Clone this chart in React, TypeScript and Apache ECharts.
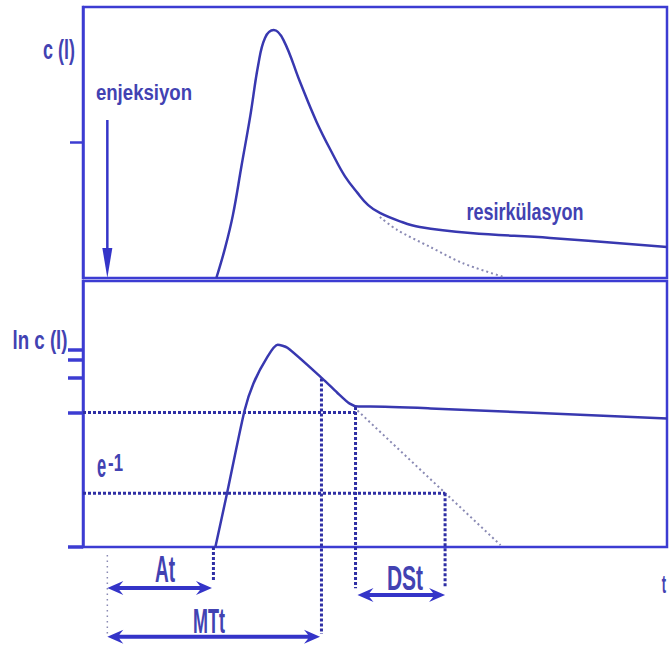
import React, { useEffect, useRef } from "react";
import * as echarts from "echarts";

// ---- data (time in s, concentration in % of panel range) ----
const timeTop = [13.7, 14.6, 15.4, 16.3, 17.2, 18.0, 18.7, 19.6, 20.6, 22.3, 24.0, 25.7, 26.9, 28.2, 29.3, 30.5, 32.5, 34.6, 39.8, 48.0, 60];
const concTop = [0, 11.1, 23.2, 41.7, 60.1, 78.6, 88.6, 91.5, 87.8, 72.3, 57.6, 45.4, 37.6, 31.4, 26.9, 24.0, 21.0, 18.8, 16.6, 14.8, 11.4];
const timeTopExtrap = [30.5, 32.3, 35.7, 39.0, 43.2];
const concTopExtrap = [22.5, 17.7, 11.4, 5.5, 0.4];

const timeLn = [13.6, 14.8, 16.6, 17.5, 18.9, 20.0, 21.0, 24.6, 26.1, 27.4, 28.3, 29.5, 35.7, 60];
const lnConc = [0, 20.2, 51.3, 61.4, 71.2, 76.0, 74.9, 63.3, 58.1, 53.9, 52.8, 52.8, 52.1, 48.3];
const timeLnExtrap = [28.2, 42.9];
const lnConcExtrap = [51.3, 0.7];

const injectionTime = 2.5;
const appearanceTime = 13.4;
const meanTransitTime = 24.5;
const kneeTime = 28.0;
const dstEndTime = 37.2;
const kneeLevel = 50.6;
const eInvLevel = 20.2;
const kneeCurveLevel = 52.6;
const mttCurveLevel = 63.3;
const injectionArrowTop = 58.3;

const topTicks = [50];
const lnTicks = [0, 50.6, 63.7, 70.4, 74.2];

// arrow rows below the axis (values in ln-panel units)
const atRow = -15.4;
const dstRow = -18.0;
const mttRow = -33.7;

const BORDER = "#3c3cd2";
const CURVE = "#3838b0";
const TEXT = "#4242b2";
const ARROW = "#3434c8";
const DOT = "#2e2ea4";
const GREY = "#8a8ab4";
const FONT = "'Liberation Sans', Arial, sans-serif";

const zip = (a: number[], b: number[]) => a.map((v, i) => [v, b[i]]);

function dotted(name: string, data: number[][], color = DOT, width = 3, dash: number[] = [3, 2]) {
  return {
    name,
    type: "line",
    xAxisIndex: 1,
    yAxisIndex: 1,
    data,
    symbol: "none",
    clip: false,
    silent: true,
    lineStyle: { color, width, type: dash },
    z: 3,
  };
}

const axisX = (gi: number) => ({
  gridIndex: gi,
  type: "value",
  min: 0,
  max: 60,
  axisLine: { show: false },
  axisTick: { show: false },
  axisLabel: { show: false },
  splitLine: { show: false },
});

export default function App() {
  const ref = useRef<HTMLDivElement>(null);
  useEffect(() => {
    const chart = echarts.init(ref.current!, null, { renderer: "svg" });
    const option: any = {
      animation: false,
      backgroundColor: "#ffffff",
      grid: [
        { left: 83, top: 7, width: 584, height: 271, show: true, borderColor: BORDER, borderWidth: 2.5, backgroundColor: "transparent" },
        { left: 83, top: 281, width: 584, height: 266, show: true, borderColor: BORDER, borderWidth: 2.5, backgroundColor: "transparent" },
      ],
      xAxis: [axisX(0), axisX(1)],
      yAxis: [
        {
          gridIndex: 0, type: "value", min: 0, max: 100,
          axisLine: { show: true, lineStyle: { color: BORDER, width: 2.5 } },
          axisTick: { show: true, customValues: topTicks, length: 13, lineStyle: { color: BORDER, width: 2.5 } },
          axisLabel: { show: false }, splitLine: { show: false },
        },
        {
          gridIndex: 1, type: "value", min: 0, max: 100,
          axisLine: { show: true, lineStyle: { color: BORDER, width: 2.5 } },
          axisTick: { show: true, customValues: lnTicks, length: 15, lineStyle: { color: BORDER, width: 3.5 } },
          axisLabel: { show: false }, splitLine: { show: false },
        },
      ],
      series: [
        {
          name: "c", type: "line", xAxisIndex: 0, yAxisIndex: 0, data: zip(timeTop, concTop),
          symbol: "none", smooth: 0.4, lineStyle: { color: CURVE, width: 2.5 }, z: 4,
        },
        {
          name: "c extrap", type: "line", xAxisIndex: 0, yAxisIndex: 0, data: zip(timeTopExtrap, concTopExtrap),
          symbol: "none", smooth: 0.3, lineStyle: { color: GREY, width: 2, type: [2, 3] }, z: 3,
        },
        {
          name: "ln c", type: "line", xAxisIndex: 1, yAxisIndex: 1, data: zip(timeLn, lnConc),
          symbol: "none", smooth: 0.25, lineStyle: { color: CURVE, width: 2.5 }, z: 4,
        },
        dotted("ln extrap", zip(timeLnExtrap, lnConcExtrap), GREY, 2, [2, 3]),
        dotted("knee level", [[0, kneeLevel], [kneeTime, kneeLevel]]),
        dotted("e-1 level", [[0, eInvLevel], [dstEndTime, eInvLevel]]),
        dotted("MTt", [[meanTransitTime, mttCurveLevel], [meanTransitTime, mttRow + 1]]),
        dotted("knee", [[kneeTime, kneeCurveLevel], [kneeTime, dstRow + 2.5]]),
        dotted("DSt end", [[dstEndTime, eInvLevel], [dstEndTime, dstRow + 2.5]]),
        dotted("At end", [[appearanceTime, 0], [appearanceTime, atRow + 2.3]]),
        dotted("injection", [[injectionTime, -3], [injectionTime, mttRow + 1]], GREY, 1.5, [1.5, 4]),
      ],
    };
    chart.setOption(option);

    const p = (g: number, t: number, v: number) =>
      chart.convertToPixel({ xAxisIndex: g, yAxisIndex: g } as any, [t, v]) as number[];

    const hArrow = (a: number[], b: number[]) => {
      const x1 = a[0], x2 = b[0], y = a[1];
      const h = 16, w = 7, s = 2, n = 4;
      return {
        type: "polygon",
        silent: true,
        shape: {
          points: [
            [x1, y], [x1 + h, y - w], [x1 + h - n, y - s], [x2 - h + n, y - s], [x2 - h, y - w],
            [x2, y], [x2 - h, y + w], [x2 - h + n, y + s], [x1 + h - n, y + s], [x1 + h, y + w],
          ],
        },
        style: { fill: ARROW },
        z: 10,
      };
    };

    const label = (text: string, x: number, y: number, fontSize: number, scaleX: number) => ({
      type: "text",
      x, y, scaleX,
      silent: true,
      z: 10,
      style: {
        text, fontSize, fontFamily: FONT, fontWeight: "bold", fill: TEXT,
        align: "center", verticalAlign: "middle", textAlign: "center", textVerticalAlign: "middle",
      },
    });

    const injTop = p(0, injectionTime, injectionArrowTop);
    const injTip = p(0, injectionTime, 0);

    chart.setOption({
      graphic: [
        {
          type: "line", silent: true, z: 10,
          shape: { x1: injTop[0], y1: injTop[1], x2: injTip[0], y2: injTip[1] - 20 },
          style: { stroke: ARROW, lineWidth: 2.5 },
        },
        {
          type: "polygon", silent: true, z: 10,
          shape: { points: [[injTip[0] - 5, injTip[1] - 30], [injTip[0] + 5, injTip[1] - 30], [injTip[0], injTip[1]]] },
          style: { fill: ARROW },
        },
        hArrow(p(1, injectionTime, atRow), p(1, appearanceTime - 0.15, atRow)),
        hArrow(p(1, injectionTime, mttRow), p(1, meanTransitTime - 0.15, mttRow)),
        hArrow(p(1, kneeTime + 0.2, dstRow), p(1, dstEndTime, dstRow)),
        label("c (l)", 59, 49, 28, 0.64),
        label("enjeksiyon", 144, 92, 23, 0.81),
        label("resirkülasyon", 525, 212, 24, 0.75),
        label("ln c (l)", 40, 340, 26, 0.72),
        label("e", 101.5, 466, 33, 0.5),
        label("-1", 115.5, 462, 24, 0.7),
        label("At", 165, 570, 36, 0.53),
        label("MTt", 209, 620, 36, 0.5),
        label("DSt", 405, 578, 35, 0.6),
        label("t", 664, 584, 26, 0.5),
      ],
    });

    return () => chart.dispose();
  }, []);

  return (
    <div
      ref={ref}
      style={{ position: "fixed", left: 0, top: 0, width: 669, height: 649, background: "#ffffff" }}
    />
  );
}
